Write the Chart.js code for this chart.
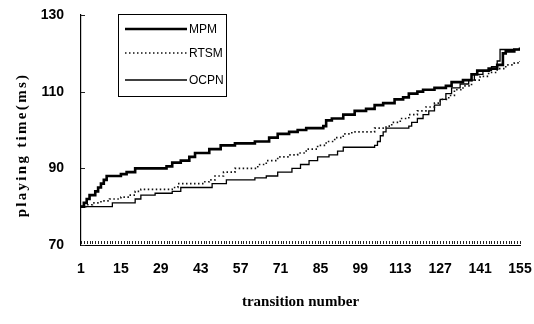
<!DOCTYPE html>
<html><head><meta charset="utf-8">
<script src="https://cdn.jsdelivr.net/npm/chart.js@4"></script>
<style>html,body{margin:0;padding:0;background:#fff}#wrap{width:534px;height:324px;position:relative}</style>
</head><body><div id="wrap"><canvas id="c" width="534" height="324"></canvas></div>
<script>
const xTickLabels = [1,15,29,43,57,71,85,99,113,127,141,155];
const yTickLabels = [70,90,110,130];
const seriesNames = ['MPM','RTSM','OCPN'];
const xTitle = 'transition number';
const yTitle = 'playing time(ms)';

const mpmX = [1,2,3,4,6,7,8,9,10,15,17,20,31,33,36,39,41,46,50,55,62,67,70,74,77,80,86,87,89,93,97,101,104,107,111,114,116,119,121,125,129,131,135,138,140,144,147,149,150,153,155];
const mpmY = [80,81,82,83,84,85,86,87,88,88.5,89,90,90.5,91.5,92,93,94,95,96,96.5,97,98,99,99.5,100,100.5,101,102.5,103,104,105,105.5,106.5,107,108,108.5,109.5,110,110.5,111,111.5,112.5,113,114.5,115.5,116,117,120,120.5,121,121.5];

const rtsmX = [1,3,5,8,11,15,18,20,22,33,35,44,46,48,51,55,63,66,70,74,77,80,84,87,90,93,96,104,108,110,113,116,119,122,125,127,130,132,135,138,141,144,147,150,153,155];
const rtsmY = [80,80.5,81,81.5,82,82.5,83,84,84.5,85,86,86.5,87,88,89,90,91,92,93,93.5,94,95,96,97,98,99,99.5,100.5,101,102,103,104,105,106,107,108,109,110.5,111.5,113,114,115,116,117,117.5,118];

const ocpnX = [1,12,20,22,27,33,36,45,47,52,62,66,70,75,78,81,84,88,91,93,104,105,106,107,108,116,117,119,121,123,125,127,129,131,134,137,139,142,145,147,148,155];
const ocpnY = [80,81,82,83,83.5,84,85,85,86,87,87.5,88,89,90,91,92,93,93.5,94.5,95.5,96,97,98.5,99.5,100.5,101,102,103,104,105,106.5,108,109.5,111,112,113,114.5,115.5,116.5,118,121,121];

function pts(xs, ys){ return xs.map((x,i)=>({x:x, y:ys[i]})); }

const TICK_FONT = {family:"'Liberation Sans Narrow','Arial Narrow','Liberation Sans',sans-serif", size:14, weight:'bold'};
const TITLE_FONT = "bold 15px 'Liberation Serif','Times New Roman',serif";

const extras = {
  id:'extras',
  afterDraw(chart){
    const ctx = chart.ctx, xs = chart.scales.x, ys = chart.scales.y;
    ctx.save();
    ctx.strokeStyle = '#222'; ctx.lineWidth = 1;
    for (let v = 1; v <= 155; v++) {
      const px = Math.round(xs.getPixelForValue(v)) + 0.5;
      ctx.beginPath(); ctx.moveTo(px, ys.bottom - 1); ctx.lineTo(px, ys.bottom - 4); ctx.stroke();
    }
    yTickLabels.forEach(v => {
      const py = Math.round(ys.getPixelForValue(v)) + 0.5;
      ctx.beginPath(); ctx.moveTo(xs.left, py); ctx.lineTo(xs.left + 4, py); ctx.stroke();
    });
    ctx.save();
    ctx.translate(22, 145);
    ctx.rotate(-Math.PI/2);
    ctx.font = TITLE_FONT;
    try { ctx.letterSpacing = '2.3px'; } catch(e) {}
    ctx.fillStyle = '#000'; ctx.textAlign = 'center'; ctx.textBaseline = 'middle';
    ctx.fillText(yTitle, 0, 0);
    ctx.restore();
    ctx.fillStyle = '#fff';
    ctx.fillRect(118, 14, 109, 83);
    ctx.strokeStyle = '#000'; ctx.lineWidth = 1;
    ctx.strokeRect(118.5, 14.5, 108, 82);
    const ly = [29, 53, 80];
    ctx.font = "12px 'Liberation Sans Narrow','Arial Narrow',sans-serif";
    ctx.textBaseline = 'middle'; ctx.textAlign = 'left';
    chart.data.datasets.forEach((ds, i) => {
      ctx.beginPath();
      ctx.setLineDash(ds.borderDash || []);
      ctx.lineWidth = ds.borderWidth;
      ctx.strokeStyle = ds.borderColor;
      ctx.moveTo(125, ly[i]); ctx.lineTo(187, ly[i]); ctx.stroke();
      ctx.setLineDash([]);
      ctx.fillStyle = '#000';
      ctx.fillText(ds.label, 189, ly[i] + 1);
    });
    ctx.restore();
  }
};

new Chart(document.getElementById('c'), {
  type: 'line',
  data: {
    datasets: [
      {label: seriesNames[0], data: pts(mpmX, mpmY), borderColor:'#000', borderWidth:2.6, pointRadius:0, pointHoverRadius:0, stepped:true},
      {label: seriesNames[1], data: pts(rtsmX, rtsmY), borderColor:'#111', borderWidth:1.6, borderDash:[1.5,2.5], pointRadius:0, pointHoverRadius:0, stepped:true},
      {label: seriesNames[2], data: pts(ocpnX, ocpnY), borderColor:'#000', borderWidth:1.3, pointRadius:0, pointHoverRadius:0, stepped:true}
    ]
  },
  options: {
    responsive:false, animation:false, devicePixelRatio:1,
    layout:{autoPadding:false, padding:{left:0, right:14, top:15, bottom:0}},
    plugins:{legend:{display:false}, tooltip:{enabled:false}},
    scales:{
      x:{
        type:'linear', min:1, max:155,
        afterBuildTicks: s => { s.ticks = xTickLabels.map(v => ({value:v})); },
        afterFit: s => { s.height = 79; s.paddingLeft = 0; s.paddingRight = 0; },
        ticks:{font:TICK_FONT, color:'#000', padding:16, maxRotation:0, autoSkip:false, callback: v => String(v)},
        grid:{drawOnChartArea:false, drawTicks:false},
        border:{display:true, color:'#000', width:1},
        title:{display:true, text:xTitle, font:{family:"'Liberation Serif','Times New Roman',serif", size:15, weight:'bold'}, color:'#000', padding:{top:0, bottom:13}}
      },
      y:{
        min:70, max:130,
        afterBuildTicks: s => { s.ticks = yTickLabels.map(v => ({value:v})); },
        afterFit: s => { s.width = 81; s.paddingTop = 0; s.paddingBottom = 0; },
        ticks:{font:TICK_FONT, color:'#000', padding:17},
        grid:{drawOnChartArea:false, drawTicks:false},
        border:{display:true, color:'#000', width:1.2}
      }
    }
  },
  plugins:[extras]
});
</script></body></html>
